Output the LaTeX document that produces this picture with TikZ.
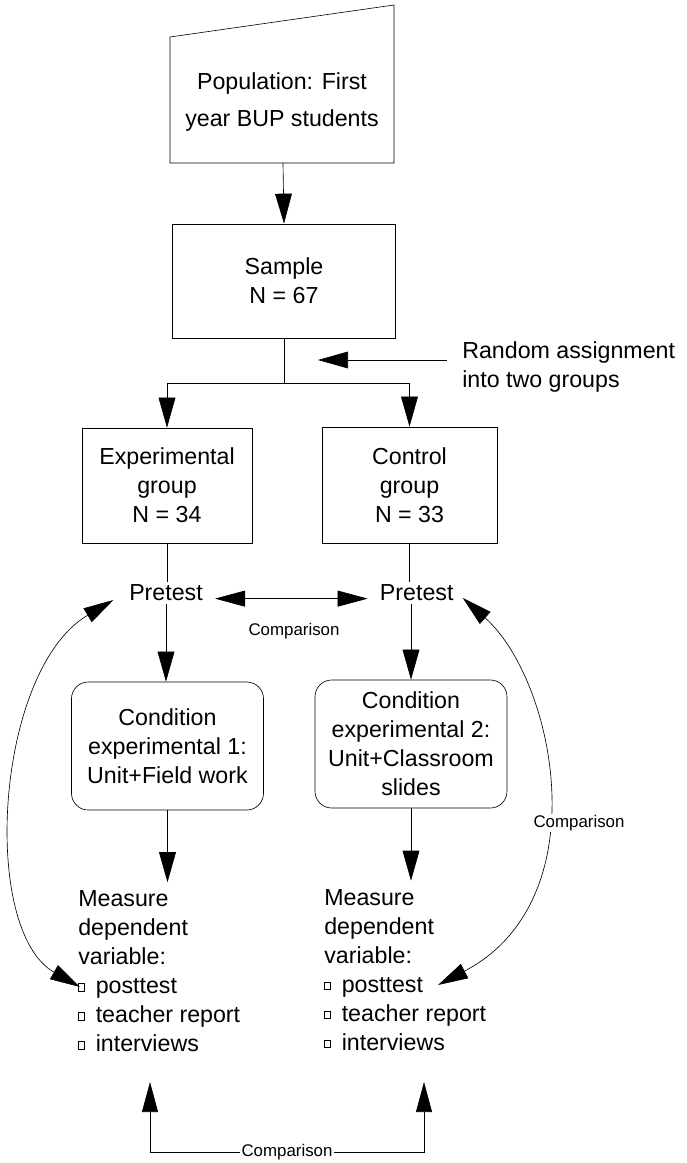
\documentclass[tikz,border=0pt]{standalone}
\usepackage{fontspec}
\setmainfont{Liberation Sans}
\usetikzlibrary{arrows.meta,positioning}
\newcommand{\sqbul}{\raisebox{0.25ex}{\setlength{\fboxsep}{0pt}\setlength{\fboxrule}{0.7pt}\fbox{\rule{0pt}{4.5pt}\hspace{3pt}}}\hspace{8pt}}

\begin{document}
\begin{tikzpicture}[x=0.025cm,y=-0.025cm,line width=0.45pt,
	font=\fontsize{16.5}{20.6}\selectfont,
	arr/.style={-{Triangle[length=0.75cm,width=0.42cm]}},
	dbl/.style={{Triangle[length=0.75cm,width=0.4cm]}-{Triangle[length=0.75cm,width=0.4cm]}},
	box/.style={draw,align=center,inner sep=0pt},
	condbox/.style={box,rounded corners=0.42cm,minimum width=4.8cm,minimum height=3.2cm},
	pre/.style={inner xsep=0.3cm,inner ysep=2pt},
	meas/.style={align=left,inner xsep=0pt,inner ysep=6pt,anchor=west},
	small/.style={font=\fontsize{12}{14}\selectfont,fill=white,inner sep=1pt}]

	\useasboundingbox (0,0) rectangle (686,1163);

	\draw (170,163) -- (170,37) -- (394,5) -- (394,163) -- cycle;
	\node[align=center,font=\fontsize{16.5}{27}\selectfont] (pop) at (282,102) {Population: First\\year BUP students};
	\coordinate (popb) at (283,163);

	\node[box,minimum width=5.575cm,minimum height=2.85cm] (sample) at (284,281) {Sample\\N = 67};
	\draw[arr] (popb) -- (sample.north);

	\node[align=left,inner sep=0pt,anchor=west] (rand) at (462,367) {Random assignment\\into two groups};
	\coordinate (randtail) at (447,360);
	\coordinate (randtip) at (318,360);
	\draw[arr] (randtail) -- (randtip);

	\node[box,minimum width=4.25cm,minimum height=2.875cm] (exp) at (167,485.5) {Experimental\\group\\N = 34};
	\node[box,minimum width=4.375cm,minimum height=2.9cm] (ctrl) at (409.5,485) {Control\\group\\N = 33};
	\coordinate (split) at (284,383);
	\draw (sample.south) -- (split);
	\draw[arr] (split) -| (exp.north);
	\draw[arr] (split) -| (ctrl.north);

	\node[pre] (pre1) at (166,593) {Pretest};
	\node[pre] (pre2) at (416.7,593) {Pretest};
	\draw (exp.south) -- (exp.south |- pre1.north);
	\draw (ctrl.south) -- (ctrl.south |- pre2.north);
	\draw[dbl] ([yshift=-4pt]pre1.east) -- ([yshift=-4pt]pre2.west);
	\node[small] (cmp1) at (294,631) {Comparison};

	\node[condbox] (cond1) at (167.5,746) {Condition\\experimental 1:\\Unit+Field work};
	\node[condbox] (cond2) at (411,744) {Condition\\experimental 2:\\Unit+Classroom\\slides};
	\draw[arr] (pre1.south) -- (pre1.south |- cond1.north);
	\draw[arr] (cond2.north |- pre2.south) -- (cond2.north);

	\node[meas] (meas1) at (78,971.5) {Measure\\dependent\\variable:\\\sqbul posttest\\\sqbul teacher report\\\sqbul interviews};
	\node[meas] (meas2) at (324,970) {Measure\\dependent\\variable:\\\sqbul posttest\\\sqbul teacher report\\\sqbul interviews};
	\draw[arr] (cond1.south) -- (cond1.south |- meas1.north);
	\draw[arr] (cond2.south) -- (cond2.south |- meas2.north);

	% comparisons of pretest and posttest
	\coordinate (post1) at (80,987);
	\coordinate (post2) at (438,985);
	\draw[dbl] ([shift={(-3.5,7)}]pre1.west) .. controls (-5,670) and (-20,930) .. (post1);
	\draw[dbl] ([shift={(-3,5)}]pre2.east) .. controls (555,680) and (600,900) .. (post2);
	\node[small] (cmp2) at (579,823) {Comparison};

	\coordinate (b1) at (150,1082);
	\coordinate (b2) at (424,1082);
	\draw[dbl] (b1) -- (150,1152) -- node[small] (cmp3) {Comparison} (424,1152) -- (b2);

\end{tikzpicture}
\end{document}
